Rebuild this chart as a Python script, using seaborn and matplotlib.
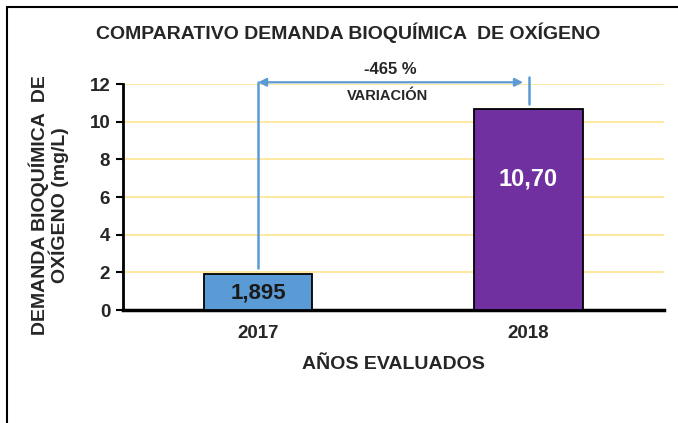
import matplotlib
matplotlib.use("Agg")
import matplotlib.pyplot as plt
import seaborn as sns
import pandas as pd
from matplotlib.lines import Line2D

# datos
anios = ["2017", "2018"]
dbo = [1.895, 10.70]
etiquetas = ["1,895", "10,70"]
colores = ["#5B9BD5", "#7030A0"]
color_etiqueta = ["#1a1a1a", "white"]
variacion = "-465 %"

sns.set_theme(style="white")
plt.rcParams['font.family'] = ['Liberation Sans', 'DejaVu Sans']
plt.rcParams['font.weight'] = 'bold'

df = pd.DataFrame({'anio': anios, 'dbo': dbo})

fig = plt.figure(figsize=(6.78, 4.23), dpi=100)
ax = fig.add_axes([0.181, 0.267, 0.798, 0.534])

sns.barplot(data=df, x='anio', y='dbo', hue='anio', palette=colores, legend=False,
            saturation=1, width=0.4, edgecolor='black', linewidth=1.3, ax=ax, zorder=3)

ax.set_ylim(0, 12)
ax.set_xlim(-0.5, 1.5)
ax.set_yticks(range(0, 13, 2))
ax.yaxis.grid(True, color='#FFE699', linewidth=1.3, zorder=0)
ax.set_axisbelow(True)
for s in ['top', 'right']:
    ax.spines[s].set_visible(False)
ax.spines['left'].set_linewidth(2)
ax.spines['left'].set_color('black')
ax.spines['bottom'].set_linewidth(2.5)
ax.spines['bottom'].set_color('black')
ax.tick_params(axis='y', left=True, length=5, width=1.5, color='black', labelsize=13.5, pad=4)
ax.tick_params(axis='x', bottom=False, labelsize=13.5, pad=5)
for lbl in ax.get_xticklabels() + ax.get_yticklabels():
    lbl.set_fontweight('bold')

ax.set_xlabel("AÑOS EVALUADOS", fontsize=14, fontweight='bold')
ax.xaxis.set_label_coords(0.5, -0.205)
ax.set_ylabel("DEMANDA BIOQUÍMICA  DE\nOXÍGENO (mg/L)", fontsize=14,
              fontweight='bold', linespacing=0.95)
ax.yaxis.set_label_coords(-0.1, 0.465)
fig.text(348 / 678, 1 - 33 / 423, "COMPARATIVO DEMANDA BIOQUÍMICA  DE OXÍGENO",
         fontsize=14, fontweight='bold', ha='center', va='center')

# etiquetas de valores
for i, (v, t) in enumerate(zip(dbo, etiquetas)):
    ax.text(i, v * 0.65 if v > 5 else v * 0.47, t, ha='center', va='center',
            fontsize=17 if v > 5 else 16, fontweight='bold', color=color_etiqueta[i], zorder=5)

# flecha de variacion
azul = "#5B9BD5"
ax.plot([0, 0], [dbo[0] + 0.35, 12.1], color=azul, lw=1.8, clip_on=False, zorder=4)
ax.plot([1.0, 1.0], [dbo[1] + 0.25, 12.4], color=azul, lw=1.8, clip_on=False, zorder=4)
ax.annotate("", xy=(0.0, 12.1), xytext=(0.98, 12.1),
            arrowprops=dict(arrowstyle='<|-|>', color=azul, lw=1.6, mutation_scale=12,
                            shrinkA=0, shrinkB=0), annotation_clip=False)
ax.text(0.49, 12.8, variacion, ha='center', va='center', fontsize=12, fontweight='bold')
ax.text(0.48, 11.35, "VARIACIÓN", ha='center', va='center', fontsize=10.5, fontweight='bold')

# marco del grafico
fig.add_artist(Line2D([0.0103, 1.0], [0.983, 0.983], color='black', lw=1.5))
fig.add_artist(Line2D([0.0103, 0.0103], [0.0, 0.983], color='black', lw=1.5))

fig.savefig("out.png", dpi=100)
